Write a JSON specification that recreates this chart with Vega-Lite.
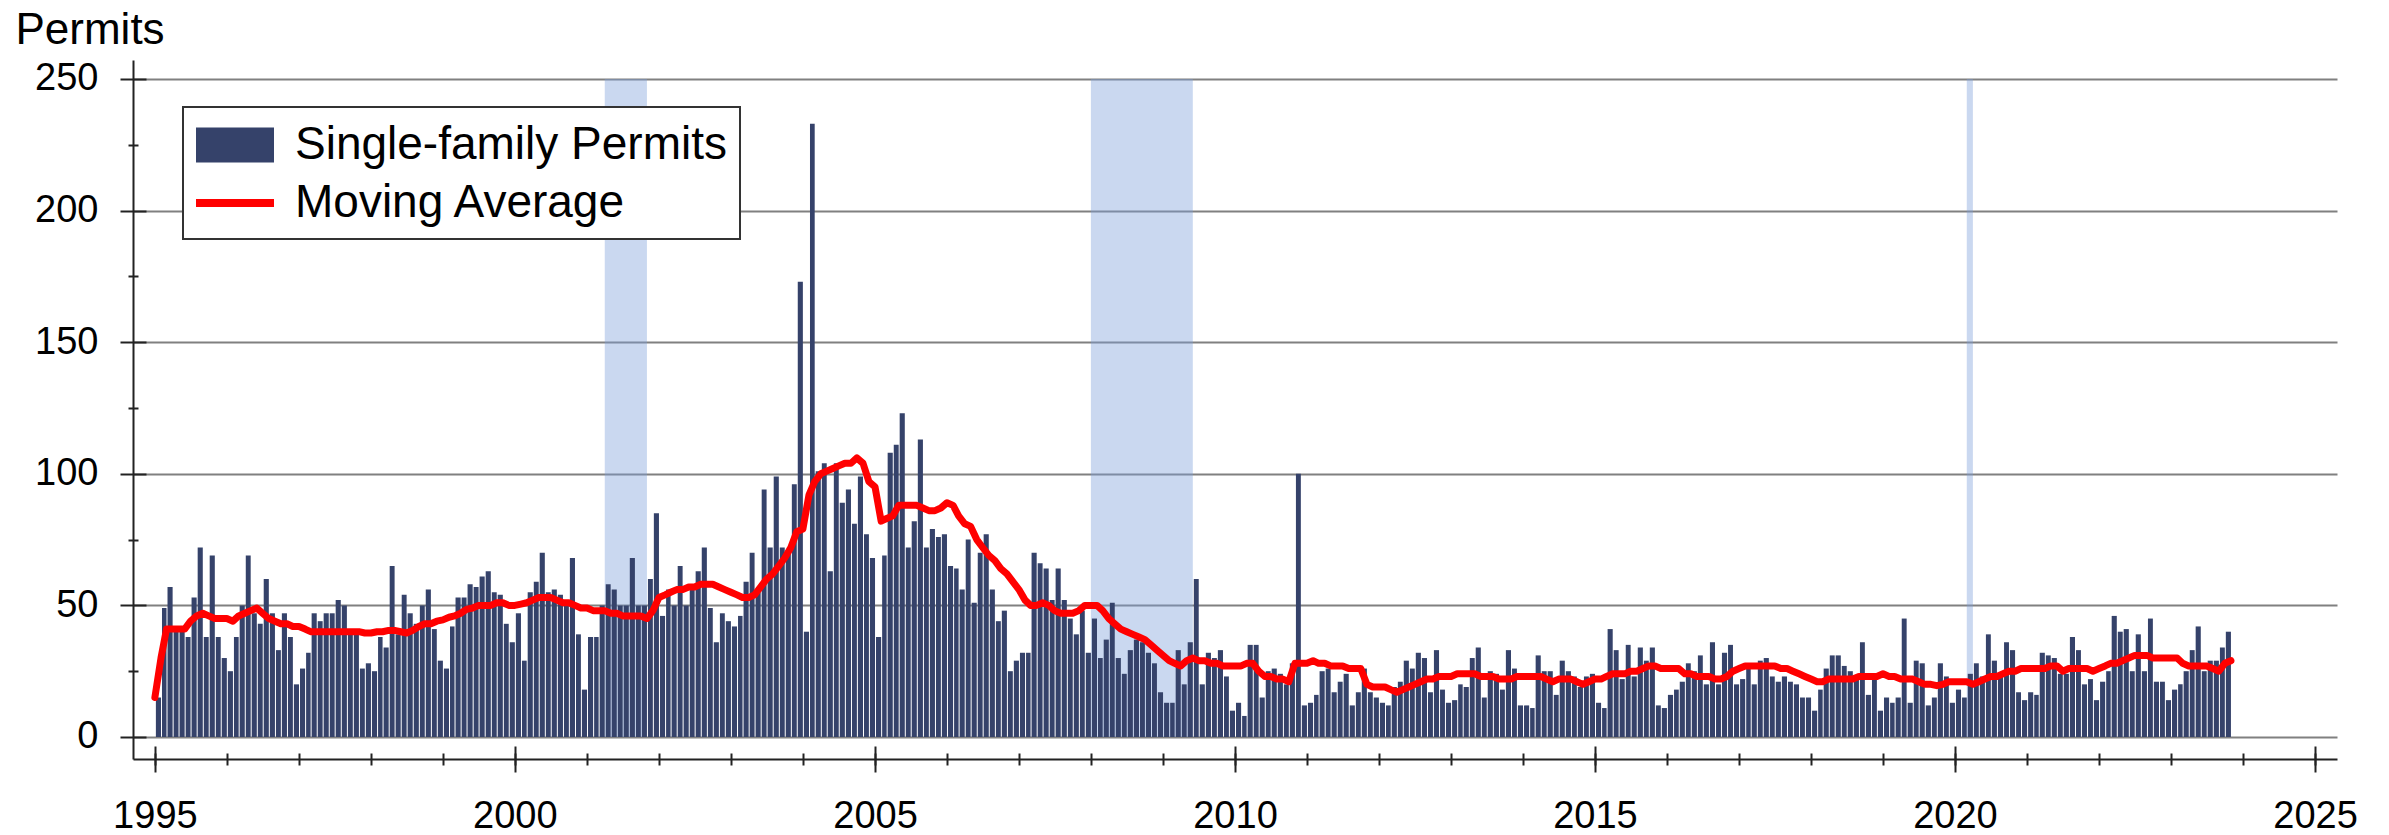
{
"$schema": "https://vega.github.io/schema/vega-lite/v6.json",
"autosize": {"type": "none"},
"width": 2204,
"height": 699,
"padding": {"left": 133, "top": 60, "right": 52, "bottom": 76},
"background": "white",
"config": {
  "view": {"stroke": null},
  "font": "Liberation Sans",
  "axis": {"labelFont": "Liberation Sans", "titleFont": "Liberation Sans", "tickColor": "#222222", "domainColor": "#222222", "tickWidth": 2, "domainWidth": 2, "labelColor": "black", "titleColor": "black"}
},
"datasets": {
  "rec": [
    {"s": "2001-04-01", "e": "2001-11-01"},
    {"s": "2008-01-01", "e": "2009-06-01"},
    {"s": "2020-03-01", "e": "2020-04-01"}
  ],
  "m": [
{"d":"1995-01","v":15,"a":15},{"d":"1995-02","v":49,"a":30},{"d":"1995-03","v":57,"a":41},{"d":"1995-04","v":40,"a":41},{"d":"1995-05","v":40,"a":41},{"d":"1995-06","v":38,"a":41},{"d":"1995-07","v":53,"a":44},{"d":"1995-08","v":72,"a":46},{"d":"1995-09","v":38,"a":47},{"d":"1995-10","v":69,"a":46},{"d":"1995-11","v":38,"a":45},{"d":"1995-12","v":30,"a":45},
{"d":"1996-01","v":25,"a":45},{"d":"1996-02","v":38,"a":44},{"d":"1996-03","v":50,"a":46},{"d":"1996-04","v":69,"a":47},{"d":"1996-05","v":47,"a":48},{"d":"1996-06","v":43,"a":49},{"d":"1996-07","v":60,"a":47},{"d":"1996-08","v":47,"a":45},{"d":"1996-09","v":33,"a":44},{"d":"1996-10","v":47,"a":43},{"d":"1996-11","v":38,"a":43},{"d":"1996-12","v":20,"a":42},
{"d":"1997-01","v":26,"a":42},{"d":"1997-02","v":32,"a":41},{"d":"1997-03","v":47,"a":40},{"d":"1997-04","v":44,"a":40},{"d":"1997-05","v":47,"a":40},{"d":"1997-06","v":47,"a":40},{"d":"1997-07","v":52,"a":40},{"d":"1997-08","v":50,"a":40},{"d":"1997-09","v":39,"a":40},{"d":"1997-10","v":39,"a":40},{"d":"1997-11","v":26,"a":40},{"d":"1997-12","v":28,"a":39.5},
{"d":"1998-01","v":25,"a":39.5},{"d":"1998-02","v":38,"a":40},{"d":"1998-03","v":34,"a":40},{"d":"1998-04","v":65,"a":40.5},{"d":"1998-05","v":39,"a":40.5},{"d":"1998-06","v":54,"a":40},{"d":"1998-07","v":47,"a":39.5},{"d":"1998-08","v":43,"a":40.5},{"d":"1998-09","v":50,"a":42},{"d":"1998-10","v":56,"a":43},{"d":"1998-11","v":41,"a":43},{"d":"1998-12","v":29,"a":44},
{"d":"1999-01","v":26,"a":44.5},{"d":"1999-02","v":42,"a":45.5},{"d":"1999-03","v":53,"a":46},{"d":"1999-04","v":53,"a":47},{"d":"1999-05","v":58,"a":48.5},{"d":"1999-06","v":57,"a":49},{"d":"1999-07","v":61,"a":50},{"d":"1999-08","v":63,"a":50},{"d":"1999-09","v":55,"a":50},{"d":"1999-10","v":54,"a":51},{"d":"1999-11","v":43,"a":51},{"d":"1999-12","v":36,"a":50},
{"d":"2000-01","v":47,"a":50},{"d":"2000-02","v":29,"a":50.5},{"d":"2000-03","v":55,"a":51},{"d":"2000-04","v":59,"a":52},{"d":"2000-05","v":70,"a":53},{"d":"2000-06","v":55,"a":53},{"d":"2000-07","v":56,"a":53},{"d":"2000-08","v":54,"a":52},{"d":"2000-09","v":52,"a":51},{"d":"2000-10","v":68,"a":51},{"d":"2000-11","v":39,"a":50},{"d":"2000-12","v":18,"a":49},
{"d":"2001-01","v":38,"a":49},{"d":"2001-02","v":38,"a":48},{"d":"2001-03","v":50,"a":48},{"d":"2001-04","v":58,"a":48},{"d":"2001-05","v":56,"a":47},{"d":"2001-06","v":50,"a":47},{"d":"2001-07","v":50,"a":46},{"d":"2001-08","v":68,"a":46},{"d":"2001-09","v":50,"a":46},{"d":"2001-10","v":50,"a":46},{"d":"2001-11","v":60,"a":45},{"d":"2001-12","v":85,"a":48},
{"d":"2002-01","v":46,"a":53},{"d":"2002-02","v":56,"a":54},{"d":"2002-03","v":50,"a":55},{"d":"2002-04","v":65,"a":56},{"d":"2002-05","v":50,"a":56},{"d":"2002-06","v":56,"a":57},{"d":"2002-07","v":63,"a":57},{"d":"2002-08","v":72,"a":58},{"d":"2002-09","v":49,"a":58},{"d":"2002-10","v":36,"a":58},{"d":"2002-11","v":47,"a":57},{"d":"2002-12","v":44,"a":56},
{"d":"2003-01","v":42,"a":55},{"d":"2003-02","v":46,"a":54},{"d":"2003-03","v":59,"a":53},{"d":"2003-04","v":70,"a":53},{"d":"2003-05","v":55,"a":54},{"d":"2003-06","v":94,"a":57},{"d":"2003-07","v":72,"a":60},{"d":"2003-08","v":99,"a":62},{"d":"2003-09","v":72,"a":65},{"d":"2003-10","v":71,"a":68},{"d":"2003-11","v":96,"a":72},{"d":"2003-12","v":173,"a":78},
{"d":"2004-01","v":40,"a":79},{"d":"2004-02","v":233,"a":92},{"d":"2004-03","v":101,"a":97},{"d":"2004-04","v":104,"a":100},{"d":"2004-05","v":63,"a":101},{"d":"2004-06","v":104,"a":102},{"d":"2004-07","v":89,"a":103},{"d":"2004-08","v":94,"a":104},{"d":"2004-09","v":81,"a":104},{"d":"2004-10","v":99,"a":106},{"d":"2004-11","v":77,"a":104},{"d":"2004-12","v":68,"a":97},
{"d":"2005-01","v":38,"a":95},{"d":"2005-02","v":69,"a":82},{"d":"2005-03","v":108,"a":83},{"d":"2005-04","v":111,"a":84},{"d":"2005-05","v":123,"a":88},{"d":"2005-06","v":72,"a":88},{"d":"2005-07","v":82,"a":88},{"d":"2005-08","v":113,"a":88},{"d":"2005-09","v":72,"a":87},{"d":"2005-10","v":79,"a":86},{"d":"2005-11","v":76,"a":86},{"d":"2005-12","v":77,"a":87},
{"d":"2006-01","v":65,"a":89},{"d":"2006-02","v":64,"a":88},{"d":"2006-03","v":56,"a":84},{"d":"2006-04","v":75,"a":81},{"d":"2006-05","v":51,"a":80},{"d":"2006-06","v":70,"a":75},{"d":"2006-07","v":77,"a":72},{"d":"2006-08","v":56,"a":69},{"d":"2006-09","v":44,"a":67},{"d":"2006-10","v":48,"a":64},{"d":"2006-11","v":25,"a":62},{"d":"2006-12","v":29,"a":59},
{"d":"2007-01","v":32,"a":56},{"d":"2007-02","v":32,"a":52},{"d":"2007-03","v":70,"a":50},{"d":"2007-04","v":66,"a":50},{"d":"2007-05","v":64,"a":51},{"d":"2007-06","v":52,"a":50},{"d":"2007-07","v":64,"a":48},{"d":"2007-08","v":52,"a":47},{"d":"2007-09","v":45,"a":47},{"d":"2007-10","v":39,"a":47},{"d":"2007-11","v":48,"a":48},{"d":"2007-12","v":32,"a":50},
{"d":"2008-01","v":45,"a":50},{"d":"2008-02","v":30,"a":50},{"d":"2008-03","v":37,"a":48},{"d":"2008-04","v":51,"a":45},{"d":"2008-05","v":30,"a":43},{"d":"2008-06","v":24,"a":41},{"d":"2008-07","v":33,"a":40},{"d":"2008-08","v":37,"a":39},{"d":"2008-09","v":36,"a":38},{"d":"2008-10","v":32,"a":37},{"d":"2008-11","v":28,"a":35},{"d":"2008-12","v":17,"a":33},
{"d":"2009-01","v":13,"a":31},{"d":"2009-02","v":13,"a":29},{"d":"2009-03","v":33,"a":28},{"d":"2009-04","v":20,"a":27},{"d":"2009-05","v":36,"a":29},{"d":"2009-06","v":60,"a":30},{"d":"2009-07","v":20,"a":29},{"d":"2009-08","v":32,"a":29},{"d":"2009-09","v":30,"a":28},{"d":"2009-10","v":33,"a":28},{"d":"2009-11","v":23,"a":27},{"d":"2009-12","v":10,"a":27},
{"d":"2010-01","v":13,"a":27},{"d":"2010-02","v":8,"a":27},{"d":"2010-03","v":35,"a":28},{"d":"2010-04","v":35,"a":28},{"d":"2010-05","v":15,"a":25},{"d":"2010-06","v":25,"a":23},{"d":"2010-07","v":26,"a":23},{"d":"2010-08","v":24,"a":22},{"d":"2010-09","v":20,"a":22},{"d":"2010-10","v":28,"a":21},{"d":"2010-11","v":100,"a":28},{"d":"2010-12","v":12,"a":28},
{"d":"2011-01","v":13,"a":28},{"d":"2011-02","v":16,"a":29},{"d":"2011-03","v":25,"a":28},{"d":"2011-04","v":26,"a":28},{"d":"2011-05","v":17,"a":27},{"d":"2011-06","v":21,"a":27},{"d":"2011-07","v":24,"a":27},{"d":"2011-08","v":12,"a":26},{"d":"2011-09","v":17,"a":26},{"d":"2011-10","v":26,"a":26},{"d":"2011-11","v":17,"a":20},{"d":"2011-12","v":15,"a":19},
{"d":"2012-01","v":13,"a":19},{"d":"2012-02","v":12,"a":19},{"d":"2012-03","v":19,"a":18},{"d":"2012-04","v":21,"a":17},{"d":"2012-05","v":29,"a":18},{"d":"2012-06","v":26,"a":19},{"d":"2012-07","v":32,"a":20},{"d":"2012-08","v":30,"a":21},{"d":"2012-09","v":17,"a":22},{"d":"2012-10","v":33,"a":22},{"d":"2012-11","v":18,"a":23},{"d":"2012-12","v":13,"a":23},
{"d":"2013-01","v":14,"a":23},{"d":"2013-02","v":20,"a":24},{"d":"2013-03","v":19,"a":24},{"d":"2013-04","v":30,"a":24},{"d":"2013-05","v":34,"a":24},{"d":"2013-06","v":15,"a":23},{"d":"2013-07","v":25,"a":23},{"d":"2013-08","v":24,"a":23},{"d":"2013-09","v":18,"a":22},{"d":"2013-10","v":33,"a":22},{"d":"2013-11","v":26,"a":22},{"d":"2013-12","v":12,"a":23},
{"d":"2014-01","v":12,"a":23},{"d":"2014-02","v":11,"a":23},{"d":"2014-03","v":31,"a":23},{"d":"2014-04","v":25,"a":23},{"d":"2014-05","v":25,"a":22},{"d":"2014-06","v":16,"a":21},{"d":"2014-07","v":29,"a":22},{"d":"2014-08","v":25,"a":22},{"d":"2014-09","v":23,"a":22},{"d":"2014-10","v":19,"a":21},{"d":"2014-11","v":23,"a":20},{"d":"2014-12","v":24,"a":21},
{"d":"2015-01","v":13,"a":22},{"d":"2015-02","v":11,"a":22},{"d":"2015-03","v":41,"a":23},{"d":"2015-04","v":33,"a":24},{"d":"2015-05","v":22,"a":24},{"d":"2015-06","v":35,"a":24},{"d":"2015-07","v":23,"a":25},{"d":"2015-08","v":34,"a":25},{"d":"2015-09","v":29,"a":26},{"d":"2015-10","v":34,"a":27},{"d":"2015-11","v":12,"a":27},{"d":"2015-12","v":11,"a":26},
{"d":"2016-01","v":16,"a":26},{"d":"2016-02","v":18,"a":26},{"d":"2016-03","v":21,"a":26},{"d":"2016-04","v":28,"a":24},{"d":"2016-05","v":25,"a":24},{"d":"2016-06","v":31,"a":23},{"d":"2016-07","v":20,"a":23},{"d":"2016-08","v":36,"a":23},{"d":"2016-09","v":20,"a":22},{"d":"2016-10","v":32,"a":22},{"d":"2016-11","v":35,"a":23},{"d":"2016-12","v":20,"a":25},
{"d":"2017-01","v":22,"a":26},{"d":"2017-02","v":27,"a":27},{"d":"2017-03","v":20,"a":27},{"d":"2017-04","v":29,"a":27},{"d":"2017-05","v":30,"a":27},{"d":"2017-06","v":23,"a":27},{"d":"2017-07","v":21,"a":27},{"d":"2017-08","v":23,"a":26},{"d":"2017-09","v":21,"a":26},{"d":"2017-10","v":20,"a":25},{"d":"2017-11","v":15,"a":24},{"d":"2017-12","v":15,"a":23},
{"d":"2018-01","v":10,"a":22},{"d":"2018-02","v":18,"a":21},{"d":"2018-03","v":26,"a":21},{"d":"2018-04","v":31,"a":22},{"d":"2018-05","v":31,"a":22},{"d":"2018-06","v":27,"a":22},{"d":"2018-07","v":25,"a":22},{"d":"2018-08","v":23,"a":22},{"d":"2018-09","v":36,"a":23},{"d":"2018-10","v":16,"a":23},{"d":"2018-11","v":22,"a":23},{"d":"2018-12","v":10,"a":23},
{"d":"2019-01","v":15,"a":24},{"d":"2019-02","v":13,"a":23},{"d":"2019-03","v":15,"a":23},{"d":"2019-04","v":45,"a":22},{"d":"2019-05","v":13,"a":22},{"d":"2019-06","v":29,"a":22},{"d":"2019-07","v":28,"a":21},{"d":"2019-08","v":12,"a":20},{"d":"2019-09","v":15,"a":20},{"d":"2019-10","v":28,"a":19.5},{"d":"2019-11","v":23,"a":20},{"d":"2019-12","v":13,"a":21},
{"d":"2020-01","v":18,"a":21},{"d":"2020-02","v":15,"a":21},{"d":"2020-03","v":24,"a":21},{"d":"2020-04","v":28,"a":20},{"d":"2020-05","v":23,"a":21},{"d":"2020-06","v":39,"a":22},{"d":"2020-07","v":29,"a":23},{"d":"2020-08","v":24,"a":23},{"d":"2020-09","v":36,"a":24},{"d":"2020-10","v":33,"a":25},{"d":"2020-11","v":17,"a":25},{"d":"2020-12","v":14,"a":26},
{"d":"2021-01","v":17,"a":26},{"d":"2021-02","v":16,"a":26},{"d":"2021-03","v":32,"a":26},{"d":"2021-04","v":31,"a":26},{"d":"2021-05","v":30,"a":27},{"d":"2021-06","v":24,"a":27},{"d":"2021-07","v":24,"a":25},{"d":"2021-08","v":38,"a":26},{"d":"2021-09","v":33,"a":26},{"d":"2021-10","v":20,"a":26},{"d":"2021-11","v":22,"a":26},{"d":"2021-12","v":14,"a":25},
{"d":"2022-01","v":21,"a":26},{"d":"2022-02","v":25,"a":27},{"d":"2022-03","v":46,"a":28},{"d":"2022-04","v":40,"a":28},{"d":"2022-05","v":41,"a":29},{"d":"2022-06","v":25,"a":30},{"d":"2022-07","v":39,"a":31},{"d":"2022-08","v":25,"a":31},{"d":"2022-09","v":45,"a":31},{"d":"2022-10","v":21,"a":30},{"d":"2022-11","v":21,"a":30},{"d":"2022-12","v":14,"a":30},
{"d":"2023-01","v":18,"a":30},{"d":"2023-02","v":20,"a":30},{"d":"2023-03","v":25,"a":28},{"d":"2023-04","v":33,"a":27},{"d":"2023-05","v":42,"a":27},{"d":"2023-06","v":25,"a":27},{"d":"2023-07","v":29,"a":27},{"d":"2023-08","v":29,"a":26},{"d":"2023-09","v":34,"a":25},{"d":"2023-10","v":40,"a":28},{"d":"2023-11","a":29}
  ]
},
"layer": [
  {
    "data": {"name": "rec"},
    "mark": {"type": "rect", "color": "#7a9dd9", "opacity": 0.4},
    "encoding": {
      "x": {"field": "s", "type": "temporal",
        "scale": {"type": "utc", "domain": [{"year": 1994, "month": 9, "date": 12, "utc": true}, {"year": 2025, "month": 4, "date": 22, "utc": true}]},
        "axis": {"orient": "bottom", "title": null, "ticks": false, "domain": true, "grid": false,
          "values": [{"year": 1995, "utc": true}, {"year": 2000, "utc": true}, {"year": 2005, "utc": true}, {"year": 2010, "utc": true}, {"year": 2015, "utc": true}, {"year": 2020, "utc": true}, {"year": 2025, "utc": true}],
          "labelExpr": "utcFormat(datum.value, '%Y')", "labelFontSize": 38, "labelPadding": 38, "labelFlush": false, "labelOverlap": false}},
      "x2": {"field": "e"},
      "y": {"datum": 0, "type": "quantitative",
        "scale": {"domain": [-8.36, 257.2], "nice": false, "zero": false},
        "axis": {"orient": "left", "ticks": false, "domain": true, "grid": true, "gridColor": "#808080", "gridWidth": 2,
          "values": [0, 50, 100, 150, 200, 250], "labelFontSize": 38, "labelPadding": 35,
          "title": "Permits", "titleAngle": 0, "titleAlign": "left", "titleBaseline": "alphabetic", "titleX": -118, "titleY": -17, "titleFontSize": 44, "titleFontWeight": "normal"}},
      "y2": {"datum": 250}
    }
  },
  {
    "data": {"name": "m"},
    "mark": {"type": "bar", "timeUnitBandSize": 0.85},
    "encoding": {
      "x": {"field": "d", "type": "temporal", "timeUnit": "utcyearmonth",
        "scale": {"type": "utc", "domain": [{"year": 1994, "month": 9, "date": 12, "utc": true}, {"year": 2025, "month": 4, "date": 22, "utc": true}]},
        "axis": {"orient": "bottom", "title": null, "labels": false, "domain": false, "grid": false, "offset": -13, "tickSize": 26,
          "values": [{"year": 1995, "utc": true}, {"year": 2000, "utc": true}, {"year": 2005, "utc": true}, {"year": 2010, "utc": true}, {"year": 2015, "utc": true}, {"year": 2020, "utc": true}, {"year": 2025, "utc": true}]}},
      "y": {"field": "v", "type": "quantitative",
        "scale": {"domain": [-8.36, 257.2], "nice": false, "zero": false},
        "axis": {"orient": "left", "title": null, "labels": false, "domain": false, "grid": false, "offset": -13, "tickSize": 26, "values": [0, 50, 100, 150, 200, 250]}},
      "y2": {"datum": 0},
      "color": {"datum": "Single-family Permits", "type": "nominal",
        "scale": {"domain": ["Single-family Permits", "Moving Average"], "range": ["#35426a", "#ff0000"]},
        "legend": {"orient": "none", "legendX": 50, "legendY": 47, "title": null, "labelFontSize": 46, "labelFont": "Liberation Sans", "labelColor": "black", "labelOffset": 49, "labelLimit": 800, "symbolSize": 2500, "padding": 13, "rowPadding": 10, "strokeColor": "#333333", "fillColor": "white", "symbolType": "square",
          "encode": {
            "symbols": {"update": {"shape": {"signal": "datum.value === 'Moving Average' ? 'M-1,-0.16H2.12V0.16H-1Z' : 'M-1,-0.7H2.12V0.7H-1Z'"}, "fill": {"signal": "datum.value === 'Moving Average' ? '#ff0000' : '#35426a'"}, "stroke": {"value": "transparent"}, "strokeWidth": {"value": 0}, "opacity": {"value": 1}, "fillOpacity": {"value": 1}}},
            "legend": {"update": {"strokeWidth": {"value": 2}}}
          }}}
    }
  },
  {
    "data": {"name": "m"},
    "mark": {"type": "line", "strokeWidth": 7, "strokeJoin": "round", "strokeCap": "round", "timeUnitBandPosition": 0.5},
    "encoding": {
      "x": {"field": "d", "type": "temporal", "timeUnit": "utcyearmonth",
        "scale": {"type": "utc", "domain": [{"year": 1994, "month": 9, "date": 12, "utc": true}, {"year": 2025, "month": 4, "date": 22, "utc": true}]},
        "axis": {"orient": "bottom", "title": null, "labels": false, "domain": false, "grid": false, "offset": -6, "tickSize": 12,
          "values": [{"year": 1995, "utc": true}, {"year": 1996, "utc": true}, {"year": 1997, "utc": true}, {"year": 1998, "utc": true}, {"year": 1999, "utc": true}, {"year": 2000, "utc": true}, {"year": 2001, "utc": true}, {"year": 2002, "utc": true}, {"year": 2003, "utc": true}, {"year": 2004, "utc": true}, {"year": 2005, "utc": true}, {"year": 2006, "utc": true}, {"year": 2007, "utc": true}, {"year": 2008, "utc": true}, {"year": 2009, "utc": true}, {"year": 2010, "utc": true}, {"year": 2011, "utc": true}, {"year": 2012, "utc": true}, {"year": 2013, "utc": true}, {"year": 2014, "utc": true}, {"year": 2015, "utc": true}, {"year": 2016, "utc": true}, {"year": 2017, "utc": true}, {"year": 2018, "utc": true}, {"year": 2019, "utc": true}, {"year": 2020, "utc": true}, {"year": 2021, "utc": true}, {"year": 2022, "utc": true}, {"year": 2023, "utc": true}, {"year": 2024, "utc": true}, {"year": 2025, "utc": true}]}},
      "y": {"field": "a", "type": "quantitative",
        "scale": {"domain": [-8.36, 257.2], "nice": false, "zero": false},
        "axis": {"orient": "left", "title": null, "labels": false, "domain": false, "grid": false, "offset": -5, "tickSize": 10, "values": [25, 75, 125, 175, 225]}},
      "color": {"datum": "Moving Average", "type": "nominal"}
    }
  }
],
"resolve": {"axis": {"x": "independent", "y": "independent"}}
}
